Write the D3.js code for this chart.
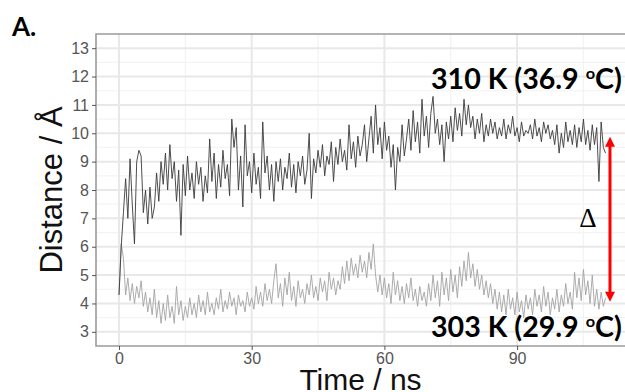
<!DOCTYPE html>
<html><head><meta charset="utf-8">
<script src="https://cdn.jsdelivr.net/npm/d3@7"></script>
<style>body{margin:0;background:#fff}svg{display:block}</style>
</head><body>
<svg id="chart" width="625" height="392"></svg>
<script>
// ---- data ----
const timeStep = 0.5; // ns between samples
const dist310K = [4.3,6.0,7.2,8.4,7.0,9.1,7.5,6.1,9.0,9.4,9.2,7.2,8.0,6.8,8.1,7.0,7.4,8.6,7.6,9.0,8.2,9.3,8.0,9.6,8.4,9.0,7.6,8.7,6.4,8.9,7.8,9.2,8.0,8.6,7.7,9.0,8.2,8.8,7.6,8.5,7.9,9.8,8.3,9.3,7.7,8.9,8.1,9.4,8.4,8.9,7.8,10.5,9.5,10.2,8.0,9.2,7.4,10.3,8.5,9.0,7.9,9.3,8.2,8.8,7.7,10.4,8.6,9.2,8.0,8.9,7.6,9.0,8.3,9.1,8.0,8.8,8.4,9.3,8.1,8.9,7.9,9.0,8.5,9.2,8.2,8.7,10.0,7.7,9.1,8.6,9.4,8.8,9.6,8.5,9.2,8.9,9.7,8.3,9.5,8.9,9.8,9.0,9.4,8.7,10.3,9.1,9.7,8.8,9.9,9.2,9.6,10.3,9.0,9.8,10.6,9.3,11.0,9.6,10.2,9.1,10.4,9.4,9.9,8.8,9.6,8.0,9.5,9.0,10.3,9.2,9.8,10.5,9.4,10.8,9.7,10.4,9.3,11.2,9.9,10.6,9.5,10.7,11.3,10.0,10.5,9.6,10.3,9.0,10.4,9.8,10.6,9.7,10.9,10.1,10.7,9.9,11.2,10.3,11.0,10.2,10.6,9.8,10.5,10.0,10.7,9.7,10.3,9.9,10.5,10.0,10.4,9.8,10.2,9.9,10.5,9.8,10.3,10.0,10.6,9.9,10.2,9.7,10.4,9.9,10.1,10.0,10.3,9.8,10.5,9.9,10.2,9.7,10.4,10.0,10.3,9.8,10.1,9.6,10.3,9.3,10.0,9.5,10.4,9.7,10.1,9.6,10.3,9.5,10.2,9.7,10.5,9.6,10.1,9.4,10.3,9.6,10.2,8.3,10.4,9.5,9.3];
const dist303K = [4.3,6.1,5.6,4.3,4.9,4.1,4.7,4.0,4.6,4.2,4.8,3.9,4.4,3.7,4.2,3.6,4.5,3.5,4.1,3.3,4.0,3.4,4.3,3.5,3.9,3.3,4.6,3.6,4.1,3.4,3.9,3.5,4.2,3.6,4.0,3.5,4.3,3.7,4.1,3.6,4.4,3.7,4.0,3.6,4.2,3.8,4.5,3.7,4.1,3.8,4.4,3.9,4.2,3.6,4.3,3.9,4.1,3.7,4.4,3.9,4.2,3.8,4.6,4.0,4.4,3.9,4.7,4.1,4.5,4.0,4.8,5.4,4.2,4.7,3.9,4.9,4.3,5.1,4.1,4.6,3.9,4.8,4.2,4.5,4.0,4.7,4.3,5.0,4.2,4.6,4.1,4.9,4.4,4.8,4.1,5.1,4.5,4.9,4.3,4.8,4.5,5.3,4.7,5.5,4.8,5.6,5.0,5.4,4.9,5.7,5.1,5.5,4.9,5.8,5.2,6.1,5.0,4.4,5.0,4.3,4.9,4.2,4.7,4.0,5.1,4.3,4.8,4.1,4.6,4.0,4.7,4.2,4.9,4.1,4.5,3.9,4.6,4.1,4.4,3.9,4.7,4.1,5.0,4.2,4.8,3.9,5.1,4.3,4.9,4.1,5.2,4.4,5.0,4.2,5.3,4.6,5.5,4.8,5.8,4.9,5.4,4.6,5.2,4.5,5.0,4.3,4.8,4.2,4.7,4.0,4.5,3.8,4.4,3.7,4.3,3.6,4.5,3.8,4.2,3.6,4.4,3.7,4.1,3.5,4.3,3.8,4.2,3.6,4.5,3.9,4.3,3.7,4.6,3.9,4.4,3.6,4.2,3.8,4.5,3.7,4.3,3.9,4.7,4.0,4.4,3.8,5.1,4.2,4.9,4.1,5.2,4.3,4.8,4.0,5.0,3.9,4.5,3.8,4.4,3.9,4.2];
const xTicks = [0, 30, 60, 90];
const xMinor = [15, 45, 75, 105];
const yTicks = [3,4,5,6,7,8,9,10,11,12,13];
const yMinor = [3.5,4.5,5.5,6.5,7.5,8.5,9.5,10.5,11.5,12.5];
const seriesLabels = ["310 K (36.9 ", "303 K (29.9 "];
const deltaArrow = {t: 111, from: 4.06, to: 9.88};

// ---- layout ----
const svg = d3.select("#chart");
const P = {l: 96, t: 34, b: 346, r: 629};
const x = d3.scaleLinear().domain([-5.2, 115.3]).range([P.l, P.r]);
const y = d3.scaleLinear().domain([2.5, 13.5]).range([P.b, P.t]);

svg.append("defs").append("clipPath").attr("id","clip")
  .append("rect").attr("x",P.l).attr("y",P.t).attr("width",P.r-P.l).attr("height",P.b-P.t);

const grid = svg.append("g");
grid.selectAll(".ymin").data(yMinor).join("line")
  .attr("x1",P.l).attr("x2",P.r).attr("y1",d=>y(d)).attr("y2",d=>y(d))
  .attr("stroke","#f3f3f3").attr("stroke-width",1.2);
grid.selectAll(".xmin").data(xMinor).join("line")
  .attr("y1",P.t).attr("y2",P.b).attr("x1",d=>x(d)).attr("x2",d=>x(d))
  .attr("stroke","#f3f3f3").attr("stroke-width",1.2);
grid.selectAll(".ymaj").data(yTicks).join("line")
  .attr("x1",P.l).attr("x2",P.r).attr("y1",d=>y(d)).attr("y2",d=>y(d))
  .attr("stroke","#e8e8e8").attr("stroke-width",2);
grid.selectAll(".xmaj").data(xTicks).join("line")
  .attr("y1",P.t).attr("y2",P.b).attr("x1",d=>x(d)).attr("x2",d=>x(d))
  .attr("stroke","#e8e8e8").attr("stroke-width",2);

const line = d3.line().x((d,i)=>x(i*timeStep)).y(d=>y(d));
const plot = svg.append("g").attr("clip-path","url(#clip)");
plot.append("path").datum(dist303K).attr("d",line)
  .attr("fill","none").attr("stroke","#a3a3a3").attr("stroke-width",0.9);
plot.append("path").datum(dist310K).attr("d",line)
  .attr("fill","none").attr("stroke","#3a3a3a").attr("stroke-width",0.9);

// panel border
svg.append("path").attr("d",`M${P.r},${P.t}H${P.l}V${P.b}H${P.r}`)
  .attr("fill","none").attr("stroke","#9a9a9a").attr("stroke-width",1.6);

// axes
const axFont = "'Liberation Sans', Arial, sans-serif";
const yAxis = svg.append("g").attr("transform",`translate(${P.l},0)`)
  .call(d3.axisLeft(y).tickValues(yTicks).tickSize(4).tickPadding(3));
const xAxis = svg.append("g").attr("transform",`translate(0,${P.b})`)
  .call(d3.axisBottom(x).tickValues(xTicks).tickSize(4).tickPadding(3));
[xAxis, yAxis].forEach(a=>{
  a.select(".domain").remove();
  a.selectAll(".tick line").attr("stroke","#555").attr("stroke-width",1);
  a.selectAll(".tick text").attr("fill","#555").style("font-family",axFont).style("font-size","16px");
});

svg.append("text").attr("transform",`translate(62,${(P.t+P.b)/2}) rotate(-90)`)
  .attr("text-anchor","middle").style("font-family",axFont).style("font-size","31px")
  .attr("fill","#111").text("Distance / Å");
svg.append("text").attr("x",(P.l+625)/2).attr("y",390)
  .attr("text-anchor","middle").style("font-family",axFont).style("font-size","30px")
  .attr("fill","#111").text("Time / ns");

// panel tag
svg.append("text").attr("x",12).attr("y",36).style("font-family","Lato, sans-serif")
  .style("font-weight","bold").style("font-size","26px").attr("fill","#000").text("A.");

// series labels
const lblFont = "Lato, 'Open Sans', sans-serif";
[[seriesLabels[0], 89], [seriesLabels[1], 337]].forEach(([s, by])=>{
  const t = svg.append("text").attr("x",431).attr("y",by)
    .style("font-family",lblFont).style("font-weight","bold").style("font-size","28px").attr("fill","#000");
  t.append("tspan").text(s);
  t.append("tspan").attr("dy",-10).style("font-size","16px").text("o");
  t.append("tspan").attr("dy",10).text("C)");
  const w = t.node().getComputedTextLength();
  const target = 191;
  t.attr("transform",`translate(431,0) scale(${target/w},1) translate(-431,0)`);
});

// delta arrow
const ax = x(deltaArrow.t), yTop = y(deltaArrow.to), yBot = y(deltaArrow.from);
svg.append("line").attr("x1",ax).attr("x2",ax).attr("y1",yTop+8).attr("y2",yBot-8)
  .attr("stroke","#ff0000").attr("stroke-width",3);
svg.append("path").attr("d",`M${ax},${yTop}L${ax-5},${yTop+10}L${ax+5},${yTop+10}Z`).attr("fill","#ff0000");
svg.append("path").attr("d",`M${ax},${yBot}L${ax-5},${yBot-10}L${ax+5},${yBot-10}Z`).attr("fill","#ff0000");
svg.append("text").attr("x",588).attr("y",227).attr("text-anchor","middle")
  .style("font-family","'Liberation Serif', 'DejaVu Serif', serif").style("font-size","27px")
  .attr("fill","#000").text("Δ");
</script>
</body></html>
